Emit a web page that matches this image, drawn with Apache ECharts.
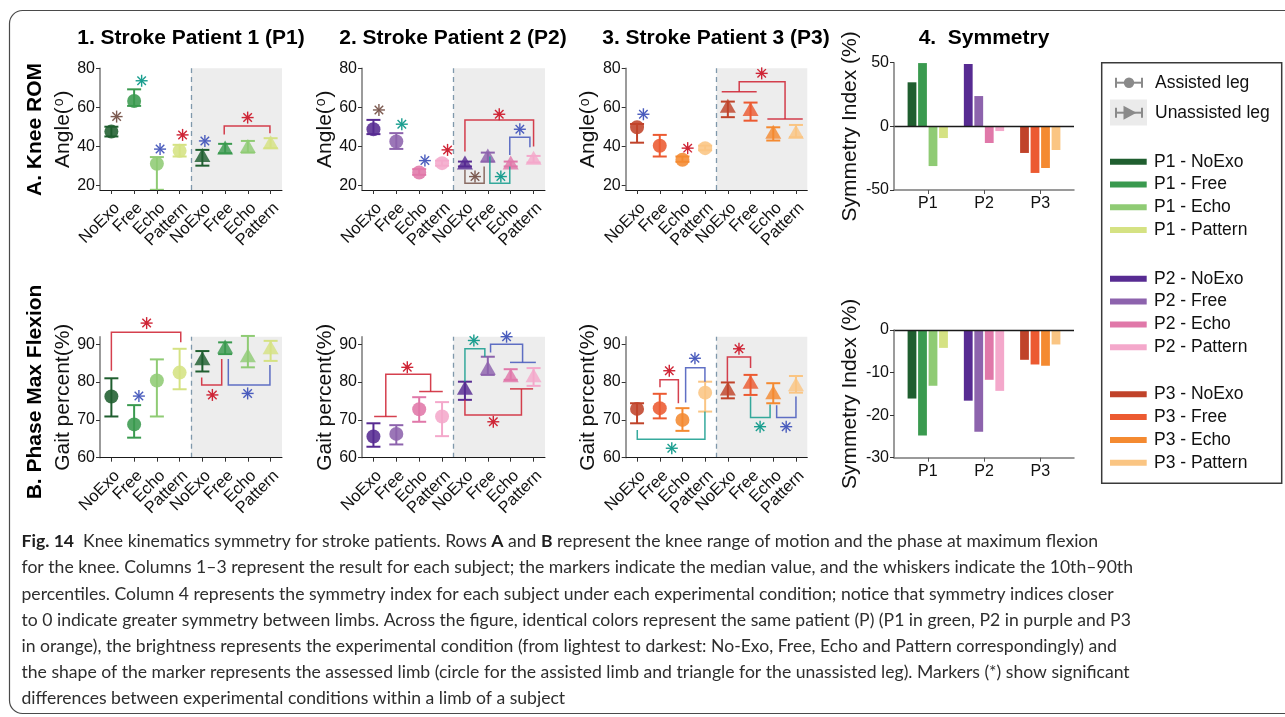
<!DOCTYPE html>
<html>
<head>
<meta charset="utf-8">
<script src="https://cdn.jsdelivr.net/npm/echarts@6/dist/echarts.min.js"></script>
<style>
  html, body { margin: 0; padding: 0; background: #ffffff; }
  #chart { width: 1285px; height: 717px; }
</style>
</head>
<body>
<div id="chart"></div>
<script>
// ---------- labels ----------
const conditions = ['NoExo', 'Free', 'Echo', 'Pattern'];
const tickLabels = conditions.concat(conditions);      // assisted leg, then unassisted leg
const patients = ['P1', 'P2', 'P3'];
const columnTitles = ['1. Stroke Patient 1 (P1)', '2. Stroke Patient 2 (P2)', '3. Stroke Patient 3 (P3)', '4.  Symmetry'];
const rowTitles = ['A. Knee ROM', 'B. Phase Max Flexion'];
const romTicks = [20, 40, 60, 80];
const phaseTicks = [60, 70, 80, 90];
const romSymTicks = [-50, 0, 50];
const phaseSymTicks = [-30, -20, -10, 0];

// ---------- A. knee range of motion (deg): median, 10th and 90th percentiles ----------
const romP1Median = [47.5, 63.2, 31.0, 37.6, 34.7, 38.5, 39.3, 41.2];
const romP1Low    = [45.0, 60.7, 17.6, 34.7, 30.0, 36.4, 36.7, 39.0];
const romP1High   = [50.0, 69.2, 34.4, 40.7, 38.1, 41.2, 42.7, 44.1];

const romP2Median = [48.7, 42.4, 26.5, 31.3, 30.9, 34.4, 30.9, 33.3];
const romP2Low    = [46.2, 38.6, 25.3, 30.0, 29.6, 32.1, 29.6, 31.6];
const romP2High   = [53.5, 46.7, 28.2, 32.6, 32.1, 36.7, 32.1, 35.0];

const romP3Median = [49.7, 40.2, 33.0, 39.0, 60.0, 58.3, 46.7, 46.7];
const romP3Low    = [41.8, 34.7, 32.0, 37.9, 54.9, 53.1, 42.9, 44.6];
const romP3High   = [51.4, 45.8, 34.7, 40.3, 62.9, 62.4, 49.7, 50.9];

// ---------- B. phase of maximum flexion (% gait) ----------
const phaseP1Median = [76.2, 68.8, 80.4, 82.5, 85.9, 89.0, 86.7, 88.8];
const phaseP1Low    = [70.9, 65.3, 70.9, 78.1, 82.8, 87.4, 83.9, 85.6];
const phaseP1High   = [81.0, 73.9, 86.0, 88.8, 88.2, 90.5, 92.2, 90.9];

const phaseP2Median = [65.6, 66.3, 72.8, 70.9, 78.1, 83.4, 81.4, 81.4];
const phaseP2Low    = [62.9, 63.5, 69.5, 65.7, 75.3, 81.9, 80.6, 79.0];
const phaseP2High   = [69.1, 68.6, 76.0, 74.7, 80.1, 86.7, 83.4, 83.7];

const phaseP3Median = [72.9, 73.1, 70.0, 77.2, 77.9, 79.7, 76.9, 79.0];
const phaseP3Low    = [69.1, 70.4, 67.1, 72.2, 75.7, 76.6, 74.4, 77.2];
const phaseP3High   = [74.4, 76.9, 73.1, 80.1, 79.9, 81.9, 79.7, 81.6];

// ---------- 4. symmetry index (%) per condition, for P1..P3 ----------
const romSymNoExo   = [34.6, 49.0, -20.9];
const romSymFree    = [49.7, 23.8, -36.6];
const romSymEcho    = [-31.2, -13.1, -32.7];
const romSymPattern = [-9.2, -3.7, -18.6];

const phaseSymNoExo   = [-16.1, -16.6, -7.0];
const phaseSymFree    = [-24.8, -23.9, -8.1];
const phaseSymEcho    = [-13.1, -11.7, -8.4];
const phaseSymPattern = [-4.2, -14.3, -3.4];

// ---------- significance brackets (data space: [condition index, value]) ----------
const romP1Brackets = [
  ['red', [[4.96, 46.0], [4.96, 50.4], [6.97, 50.4], [6.97, 46.7]]]
];
const romP1Stars = [[0.23, 55.2, 'brown'], [1.33, 73.6, 'teal'], [2.14, 38.5, 'blue'], [3.13, 45.8, 'red'], [4.11, 42.7, 'blue'], [5.99, 54.7, 'red']];

const romP2Brackets = [
  ['red',   [[4.0, 37.3], [4.0, 53.5], [7.0, 53.5], [7.0, 39.8]]],
  ['blue',  [[5.96, 35.5], [5.96, 44.6], [6.84, 44.6], [6.84, 39.5]]],
  ['brown', [[4.0, 27.9], [4.0, 21.0], [4.84, 21.0], [4.84, 29.6]]],
  ['teal',  [[5.09, 34.7], [5.09, 21.0], [5.96, 21.0], [5.96, 29.6]]]
];
const romP2Stars = [[0.24, 58.6, 'brown'], [1.24, 51.3, 'teal'], [2.25, 32.6, 'blue'], [3.24, 38.1, 'red'], [5.5, 56.4, 'red'], [6.4, 48.7, 'blue'], [4.44, 24.4, 'brown'], [5.57, 24.4, 'teal']];

const romP3Brackets = [
  ['red', [[3.73, 68.0], [5.27, 68.0]]],
  ['red', [[4.5, 68.0], [4.5, 73.1], [6.52, 73.1], [6.52, 54.0]]],
  ['red', [[5.74, 54.0], [7.3, 54.0]]]
];
const romP3Stars = [[0.28, 56.4, 'blue'], [2.23, 39.0, 'red'], [5.49, 77.4, 'red']];

const phaseP1Brackets = [
  ['red',  [[0.0, 83.0], [0.0, 93.2], [3.05, 93.2], [3.05, 90.5]]],
  ['red',  [[3.97, 81.2], [3.97, 79.2], [4.85, 79.2], [4.85, 86.1]]],
  ['blue', [[5.14, 86.1], [5.14, 79.2], [6.97, 79.2], [6.97, 84.5]]]
];
const phaseP1Stars = [[1.55, 95.6, 'red'], [1.21, 76.3, 'blue'], [4.44, 76.6, 'red'], [5.99, 77.0, 'blue']];

const phaseP2Brackets = [
  ['red',  [[0.03, 70.9], [1.02, 70.9]]],
  ['red',  [[0.54, 70.9], [0.54, 82.1], [2.5, 82.1], [2.5, 77.5]]],
  ['red',  [[2.0, 77.5], [3.03, 77.5]]],
  ['teal', [[4.0, 80.1], [4.0, 88.8], [4.87, 88.8], [4.87, 86.7]]],
  ['blue', [[5.12, 87.8], [5.12, 90.0], [6.52, 90.0], [6.52, 85.2]]],
  ['blue', [[5.97, 85.2], [7.1, 85.2]]],
  ['red',  [[4.0, 75.3], [4.0, 71.3], [6.47, 71.3], [6.47, 78.2]]],
  ['red',  [[5.97, 78.2], [6.98, 78.2]]]
];
const phaseP2Stars = [[1.48, 83.9, 'red'], [4.39, 91.0, 'teal'], [5.82, 92.0, 'blue'], [5.24, 69.5, 'red']];

const phaseP3Brackets = [
  ['red',  [[1.01, 78.6], [1.01, 80.6], [1.82, 80.6], [1.82, 74.4]]],
  ['blue', [[2.14, 74.6], [2.14, 83.8], [2.99, 83.8], [2.99, 80.1]]],
  ['teal', [[0.01, 67.3], [0.01, 64.9], [2.99, 64.9], [2.99, 72.2]]],
  ['red',  [[3.98, 80.1], [3.98, 86.6], [5.0, 86.6], [5.0, 83.7]]],
  ['teal', [[5.0, 76.2], [5.0, 70.6], [5.86, 70.6], [5.86, 74.1]]],
  ['blue', [[6.15, 73.9], [6.15, 70.6], [7.0, 70.6], [7.0, 76.2]]]
];
const phaseP3Stars = [[1.42, 83.0, 'red'], [2.55, 86.3, 'blue'], [1.53, 62.5, 'teal'], [4.49, 88.8, 'red'], [5.42, 68.2, 'teal'], [6.57, 68.2, 'blue']];

// ---------- colours ----------
const palette = [
  ['#1f5e2f', '#3a9a4f', '#8fcb74', '#d5e283'],
  ['#572b92', '#8d63ad', '#e078a9', '#f4a8cb'],
  ['#c0432a', '#ec5a31', '#f48a31', '#fac583']
];
const sigKeys = ['red', 'blue', 'teal', 'brown'];
const sigColors = ['#cf2536', '#4a5cbd', '#1a9e8f', '#7c5a50'];

const FONT = '"Liberation Sans", Arial, Helvetica, sans-serif';
const CAPTION_FONT = 'Lato, "Open Sans", sans-serif';

// ---------- layout ----------
const scatterPanels = [
  { box: { left: 100,   top: 68.3,  width: 182,   height: 121.7 }, p: 0, med: romP1Median, lo: romP1Low, hi: romP1High, range: [17.5, 80], ticks: romTicks, name: 'Angle({s|o})', br: romP1Brackets, st: romP1Stars },
  { box: { left: 362,   top: 68.3,  width: 183,   height: 121.7 }, p: 1, med: romP2Median, lo: romP2Low, hi: romP2High, range: [17.5, 80], ticks: romTicks, name: 'Angle({s|o})', br: romP2Brackets, st: romP2Stars },
  { box: { left: 625.7, top: 68.3,  width: 181.6, height: 121.7 }, p: 2, med: romP3Median, lo: romP3Low, hi: romP3High, range: [17.5, 80], ticks: romTicks, name: 'Angle({s|o})', br: romP3Brackets, st: romP3Stars },
  { box: { left: 100,   top: 336.7, width: 182,   height: 121 },   p: 0, med: phaseP1Median, lo: phaseP1Low, hi: phaseP1High, range: [60, 92], ticks: phaseTicks, name: 'Gait percent(%)', br: phaseP1Brackets, st: phaseP1Stars },
  { box: { left: 362,   top: 336.7, width: 183,   height: 121 },   p: 1, med: phaseP2Median, lo: phaseP2Low, hi: phaseP2High, range: [60, 92], ticks: phaseTicks, name: 'Gait percent(%)', br: phaseP2Brackets, st: phaseP2Stars },
  { box: { left: 625.7, top: 336.7, width: 181.6, height: 121 },   p: 2, med: phaseP3Median, lo: phaseP3Low, hi: phaseP3High, range: [60, 92], ticks: phaseTicks, name: 'Gait percent(%)', br: phaseP3Brackets, st: phaseP3Stars }
];
const barPanels = [
  { box: { left: 894, top: 62.7, width: 180, height: 127.3 }, range: [-50, 50], interval: 50, ticks: romSymTicks,
    values: [romSymNoExo, romSymFree, romSymEcho, romSymPattern] },
  { box: { left: 894, top: 330,  width: 180, height: 127.7 }, range: [-30, 0], interval: 10, ticks: phaseSymTicks,
    values: [phaseSymNoExo, phaseSymFree, phaseSymEcho, phaseSymPattern] }
];

const grid = [], xAxis = [], yAxis = [], series = [];
const idx = [0, 1, 2, 3, 4, 5, 6, 7];
// label slots: empty end slots keep the real labels away from the min/max overlap check
const labelSlots = [-0.5].concat(idx, [7.5]);

function yAxisBase(gi, range, ticks, name, nameGap) {
  return {
    type: 'value', gridIndex: gi, min: range[0], max: range[1], z: 5,
    name: name, nameLocation: 'middle', nameGap: nameGap,
    nameTextStyle: { fontSize: 21, fontFamily: FONT, color: '#111',
      rich: { s: { fontSize: 14, fontFamily: FONT, color: '#111', verticalAlign: 'top', padding: [0, 1, 0, 1] } } },
    axisLine: { show: true, onZero: false, lineStyle: { color: '#7a7a7a', width: 1.5 } },
    axisTick: { show: true, customValues: ticks, length: 4, lineStyle: { color: '#333' } },
    axisLabel: { customValues: ticks, fontSize: 16, fontFamily: FONT, color: '#111', margin: 5,
      showMinLabel: true, showMaxLabel: true },
    splitLine: { show: false }
  };
}

scatterPanels.forEach((pn, gi) => {
  grid.push(Object.assign({ outerBoundsMode: 'none', containLabel: false }, pn.box));
  xAxis.push({
    type: 'value', gridIndex: gi, min: -0.5, max: 7.5, z: 5,
    axisLine: { show: true, onZero: false, lineStyle: { color: '#1a1a1a', width: 1 } },
    axisTick: { show: true, customValues: idx, length: 4, lineStyle: { color: '#333' } },
    axisLabel: { customValues: labelSlots,
      formatter: v => (Math.abs(v - Math.round(v)) < 0.01 ? ' \n' + tickLabels[Math.round(v)] : ''),
      rotate: 45, lineHeight: 16, fontSize: 16.5, fontFamily: FONT, color: '#111', margin: 10,
      hideOverlap: false },
    splitLine: { show: false }
  });
  yAxis.push(yAxisBase(gi, pn.range, pn.ticks, pn.name, 24));

  const pal = palette[pn.p];
  // median markers with 10th-90th percentile whiskers
  series.push({
    type: 'custom', xAxisIndex: gi, yAxisIndex: gi, z: 3, clip: false,
    data: pn.med.map((m, i) => [i, m, pn.lo[i], pn.hi[i]]),
    renderItem: (params, api) => {
      const i = api.value(0);
      const c = api.coord([i, api.value(1)]);
      const lo = api.coord([i, api.value(2)]);
      const hi = api.coord([i, api.value(3)]);
      const col = pal[i % 4];
      const cap = 7;
      const ls = { stroke: col, lineWidth: 2 };
      const kids = [
        { type: 'line', shape: { x1: c[0], y1: lo[1], x2: c[0], y2: hi[1] }, style: ls },
        { type: 'line', shape: { x1: c[0] - cap, y1: lo[1], x2: c[0] + cap, y2: lo[1] }, style: ls },
        { type: 'line', shape: { x1: c[0] - cap, y1: hi[1], x2: c[0] + cap, y2: hi[1] }, style: ls }
      ];
      if (i < 4) {
        kids.push({ type: 'circle', shape: { cx: c[0], cy: c[1], r: 7 }, style: { fill: col, opacity: 0.88 } });
      } else {
        kids.push({ type: 'polygon', shape: { points: [[c[0], c[1] - 8.5], [c[0] + 8, c[1] + 5.5], [c[0] - 8, c[1] + 5.5]] },
          style: { fill: col, opacity: 0.82 } });
      }
      return { type: 'group', children: kids };
    },
    markArea: { silent: true, itemStyle: { color: '#ededed' }, data: [[{ xAxis: 3.5 }, { xAxis: 7.5 }]] },
    markLine: { silent: true, symbol: 'none', label: { show: false },
      lineStyle: { color: '#7f98ab', type: [5, 4], width: 1.3 }, data: [{ xAxis: 3.5 }] }
  });
  // significance brackets
  series.push({
    type: 'custom', xAxisIndex: gi, yAxisIndex: gi, z: 4, clip: false,
    data: pn.br.map((b, k) => [k]),
    renderItem: (params, api) => {
      const b = pn.br[api.value(0)];
      const pts = b[1].map(p => api.coord(p));
      return { type: 'polyline', shape: { points: pts },
        style: { stroke: sigColors[sigKeys.indexOf(b[0])], lineWidth: 1.5, fill: null, opacity: 0.88 } };
    }
  });
  // significance asterisks
  series.push({
    type: 'custom', xAxisIndex: gi, yAxisIndex: gi, z: 4, clip: false,
    data: pn.st.map(s => [s[0], s[1], sigKeys.indexOf(s[2])]),
    renderItem: (params, api) => {
      const c = api.coord([api.value(0), api.value(1)]);
      const k = api.value(2);
      const col = sigColors[k];
      const r = 6;
      const kids = [0, 1, 2, 3].map(a => {
        const ang = a * Math.PI / 4;
        const dx = r * Math.cos(ang), dy = r * Math.sin(ang);
        return { type: 'line', shape: { x1: c[0] - dx, y1: c[1] - dy, x2: c[0] + dx, y2: c[1] + dy },
          style: { stroke: col, lineWidth: 1.4 } };
      });
      if (k === 0) kids.push({ type: 'circle', shape: { cx: c[0], cy: c[1], r: 2 }, style: { fill: col } });
      return { type: 'group', children: kids };
    }
  });
});

barPanels.forEach((pn, j) => {
  const gi = scatterPanels.length + j;
  grid.push(Object.assign({ outerBoundsMode: 'none', containLabel: false }, pn.box));
  xAxis.push({
    type: 'value', gridIndex: gi, min: 0.4, max: 3.6, z: 5,
    axisLine: { show: true, onZero: false, lineStyle: { color: '#7a7a7a', width: 1.5 } },
    axisTick: { show: true, customValues: [1, 2, 3], length: 4, lineStyle: { color: '#555' } },
    axisLabel: { customValues: [1, 2, 3], formatter: v => patients[Math.round(v) - 1],
      fontSize: 16, fontFamily: FONT, color: '#111', margin: 6, showMinLabel: true, showMaxLabel: true },
    splitLine: { show: false }
  });
  const ya = yAxisBase(gi, pn.range, pn.ticks, 'Symmetry Index (%)', 33);
  ya.interval = pn.interval;
  yAxis.push(ya);
  const data = [];
  pn.values.forEach((vals, c) => vals.forEach((v, p) => data.push([p + 1, v, c])));
  series.push({
    type: 'custom', xAxisIndex: gi, yAxisIndex: gi, z: 3,
    data: data,
    renderItem: (params, api) => {
      const x = api.value(0), v = api.value(1), c = api.value(2);
      const base = api.coord([x, 0]);
      const top = api.coord([x, v]);
      const cx = base[0] + (c - 1.5) * 10.5;
      return { type: 'rect',
        shape: { x: cx - 4.4, y: Math.min(base[1], top[1]), width: 8.8, height: Math.abs(top[1] - base[1]) },
        style: { fill: palette[x - 1][c] } };
    },
    markLine: { silent: true, symbol: 'none', label: { show: false },
      lineStyle: { color: '#1a1a1a', type: 'solid', width: 1.3 }, data: [{ yAxis: 0 }] }
  });
});

// ---------- titles, legend, caption ----------
const graphics = [];
graphics.push({ type: 'rect', shape: { x: 9.5, y: 10.5, width: 1300, height: 703, r: 13 },
  style: { fill: null, stroke: '#4a4a4a', lineWidth: 1.2 }, silent: true, z: -10 });

const titleX = [191, 453, 716, 984];
columnTitles.forEach((t, i) => graphics.push({ type: 'text', x: titleX[i], y: 38,
  style: { text: t, font: 'bold 21px ' + FONT, fill: '#000', textAlign: 'center', textVerticalAlign: 'middle' } }));
const rowY = [129.5, 392];
rowTitles.forEach((t, i) => graphics.push({ type: 'text', x: 35, y: rowY[i], rotation: Math.PI / 2,
  style: { text: t, font: 'bold 21px ' + FONT, fill: '#000', textAlign: 'center', textVerticalAlign: 'middle' } }));

// legend
const legendGray = '#8a8a8a';
const LEGEND_FONT = '17.5px ' + FONT;
graphics.push({ type: 'rect', shape: { x: 1101.7, y: 62.7, width: 180, height: 420.6 },
  style: { fill: null, stroke: '#3a3a3a', lineWidth: 1.5 } });
const legendSymbols = ['Assisted leg', 'Unassisted leg'];
const symY = [82.7, 112.7];
graphics.push({ type: 'rect', shape: { x: 1110, y: 99.5, width: 37, height: 26 }, style: { fill: '#ebebeb' } });
symY.forEach((y, i) => {
  graphics.push({ type: 'line', shape: { x1: 1116, y1: y, x2: 1142, y2: y }, style: { stroke: legendGray, lineWidth: 2 } });
  graphics.push({ type: 'line', shape: { x1: 1116, y1: y - 5, x2: 1116, y2: y + 5 }, style: { stroke: legendGray, lineWidth: 2 } });
  graphics.push({ type: 'line', shape: { x1: 1142, y1: y - 5, x2: 1142, y2: y + 5 }, style: { stroke: legendGray, lineWidth: 2 } });
  if (i === 0) graphics.push({ type: 'circle', shape: { cx: 1129, cy: y, r: 5.2 }, style: { fill: legendGray } });
  else graphics.push({ type: 'polygon', shape: { points: [[1123.5, y - 7], [1123.5, y + 7], [1136.5, y]] }, style: { fill: legendGray } });
  graphics.push({ type: 'text', x: 1155, y: y, style: { text: legendSymbols[i], font: LEGEND_FONT, fill: '#111', textVerticalAlign: 'middle' } });
});
const legendGroupY = [161.7, 278.8, 394.3];
palette.forEach((cols, p) => cols.forEach((col, c) => {
  const y = legendGroupY[p] + c * 22.8;
  graphics.push({ type: 'rect', shape: { x: 1110, y: y - 3, width: 36.7, height: 6 }, style: { fill: col } });
  graphics.push({ type: 'text', x: 1154, y: y, style: { text: patients[p] + ' - ' + conditions[c], font: LEGEND_FONT, fill: '#111', textVerticalAlign: 'middle' } });
}));

// figure caption
const captionLines = [
  '{b|Fig. 14}  Knee kinematics symmetry for stroke patients. Rows {b|A} and {b|B} represent the knee range of motion and the phase at maximum flexion',
  'for the knee. Columns 1–3 represent the result for each subject; the markers indicate the median value, and the whiskers indicate the 10th–90th',
  'percentiles. Column 4 represents the symmetry index for each subject under each experimental condition; notice that symmetry indices closer',
  'to 0 indicate greater symmetry between limbs. Across the figure, identical colors represent the same patient (P) (P1 in green, P2 in purple and P3',
  'in orange), the brightness represents the experimental condition (from lightest to darkest: No-Exo, Free, Echo and Pattern correspondingly) and',
  'the shape of the marker represents the assessed limb (circle for the assisted limb and triangle for the unassisted leg). Markers (*) show significant',
  'differences between experimental conditions within a limb of a subject'
];
captionLines.forEach((t, k) => graphics.push({ type: 'text', x: 21.5, y: 541.7 + k * 26.1,
  style: { text: t, fontFamily: CAPTION_FONT, fontSize: 17.6, fill: '#2e2e2e', textVerticalAlign: 'middle',
    rich: { b: { fontFamily: CAPTION_FONT, fontSize: 17.6, fontWeight: 'bold', fill: '#1e1e1e' } } } }));

const chart = echarts.init(document.getElementById('chart'), null, { renderer: 'canvas' });
chart.setOption({
  animation: false,
  backgroundColor: '#ffffff',
  grid: grid,
  xAxis: xAxis,
  yAxis: yAxis,
  series: series,
  graphic: { elements: graphics }
});
</script>
</body>
</html>
